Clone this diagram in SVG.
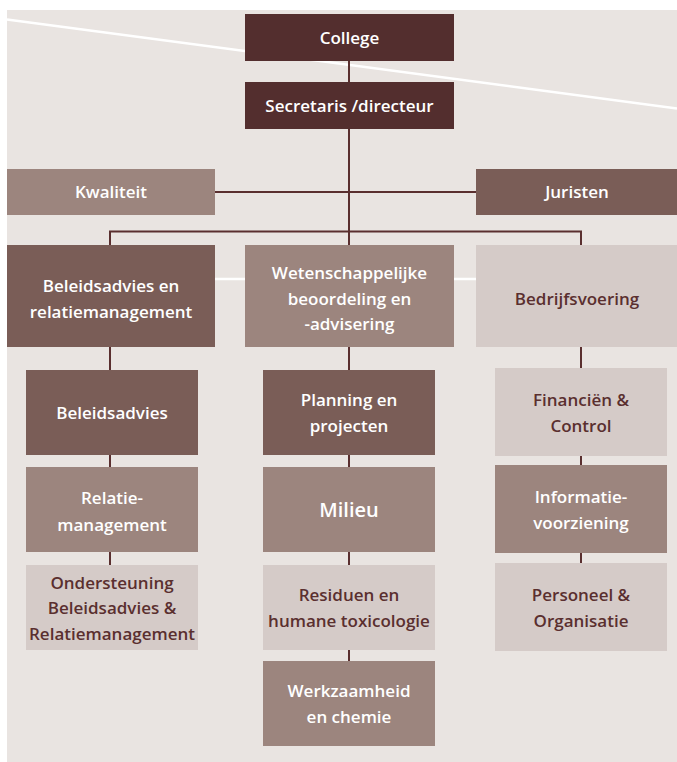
<svg xmlns="http://www.w3.org/2000/svg" width="677" height="762" viewBox="0 0 677 762">
<style>
.t{font-family:"Open Sans","Liberation Sans",sans-serif;font-weight:600;font-size:17px;text-anchor:middle}
.w{fill:#ffffff}
.d{fill:#5a2f2f}
.c0{fill:#532e2e}
.c1{fill:#7a5d57}
.c2{fill:#9c857e}
.c3{fill:#d5cbc8}
.ln{stroke:#5a2f2f;stroke-width:2;fill:none}
</style>
<rect x="0" y="0" width="677" height="762" fill="#ffffff"/>
<rect x="7" y="10" width="670" height="752" fill="#e9e4e1"/>
<line x1="7" y1="19.5" x2="677" y2="108.5" stroke="#ffffff" stroke-width="2.5"/>
<line x1="7" y1="279" x2="677" y2="279" stroke="#ffffff" stroke-width="2.5"/>
<g id="connectors" class="ln">
<path d="M349 61V82M349 128V245M215 192H476M110 245V231.5H581V245"/>
<path d="M110 347V370M110 455V467M110 552V565"/>
<path d="M349 347V370M349 455V467M349 552V565M349 650V661"/>
<path d="M581 347V368M581 456V465M581 553V563"/>
</g>
<g id="college"><rect class="c0" x="245" y="14" width="209" height="47"/><text class="t w" x="349.5" y="43.5">College</text></g>
<g id="secretaris"><rect class="c0" x="245" y="82" width="209" height="47"/><text class="t w" x="349.5" y="111.5">Secretaris /directeur</text></g>
<g id="kwaliteit"><rect class="c2" x="7" y="169" width="208" height="46"/><text class="t w" x="111" y="198">Kwaliteit</text></g>
<g id="juristen"><rect class="c1" x="476" y="169" width="201" height="46"/><text class="t w" x="577" y="198">Juristen</text></g>
<g id="beleid-relatie"><rect class="c1" x="7" y="245" width="208" height="102"/><text class="t w" x="111" y="292">Beleidsadvies en</text><text class="t w" x="111" y="318">relatiemanagement</text></g>
<g id="wetenschap"><rect class="c2" x="245" y="245" width="209" height="102"/><text class="t w" x="349.5" y="279">Wetenschappelijke</text><text class="t w" x="349.5" y="305">beoordeling en</text><text class="t w" x="349.5" y="330">-advisering</text></g>
<g id="bedrijfsvoering"><rect class="c3" x="476" y="245" width="201" height="102"/><text class="t d" x="577" y="305">Bedrijfsvoering</text></g>
<g id="beleidsadvies"><rect class="c1" x="26" y="370" width="172" height="85"/><text class="t w" x="112" y="419">Beleidsadvies</text></g>
<g id="relatiemanagement"><rect class="c2" x="26" y="467" width="172" height="85"/><text class="t w" x="112" y="504">Relatie-</text><text class="t w" x="112" y="531">management</text></g>
<g id="ondersteuning"><rect class="c3" x="26" y="565" width="172" height="85"/><text class="t d" x="112" y="589">Ondersteuning</text><text class="t d" x="112" y="614">Beleidsadvies &amp;</text><text class="t d" x="112" y="640">Relatiemanagement</text></g>
<g id="planning"><rect class="c1" x="263" y="370" width="172" height="85"/><text class="t w" x="349" y="406">Planning en</text><text class="t w" x="349" y="432">projecten</text></g>
<g id="milieu"><rect class="c2" x="263" y="467" width="172" height="85"/><text class="t w" x="349" y="517" style="font-size:20px">Milieu</text></g>
<g id="residuen"><rect class="c3" x="263" y="565" width="172" height="85"/><text class="t d" x="349" y="601">Residuen en</text><text class="t d" x="349" y="627">humane toxicologie</text></g>
<g id="werkzaamheid"><rect class="c2" x="263" y="661" width="172" height="85"/><text class="t w" x="349" y="697">Werkzaamheid</text><text class="t w" x="349" y="723">en chemie</text></g>
<g id="financien"><rect class="c3" x="495" y="368" width="172" height="88"/><text class="t d" x="581" y="406">Financiën &amp;</text><text class="t d" x="581" y="432">Control</text></g>
<g id="informatie"><rect class="c2" x="495" y="465" width="172" height="88"/><text class="t w" x="581" y="503">Informatie-</text><text class="t w" x="581" y="529">voorziening</text></g>
<g id="personeel"><rect class="c3" x="495" y="563" width="172" height="88"/><text class="t d" x="581" y="601">Personeel &amp;</text><text class="t d" x="581" y="627">Organisatie</text></g>
</svg>
